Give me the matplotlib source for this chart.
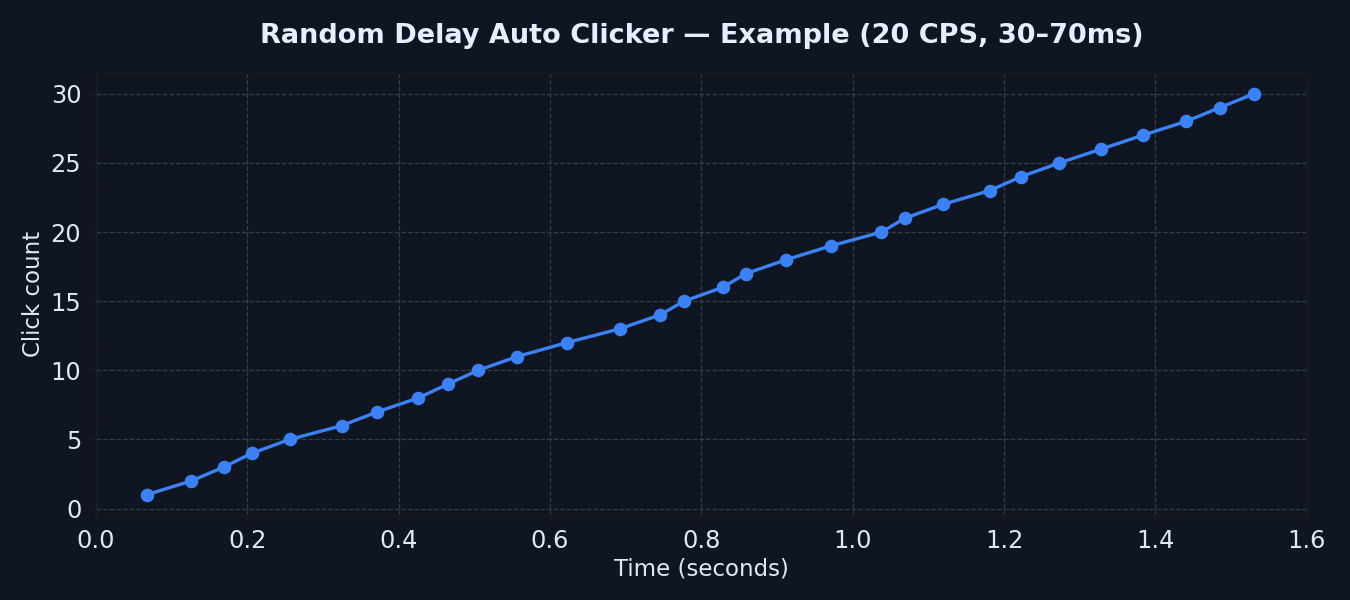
import matplotlib.pyplot as plt

# click timestamps (seconds) and running click count
times = [0.067, 0.126, 0.169, 0.206, 0.256, 0.325, 0.372, 0.426, 0.465, 0.505,
         0.557, 0.622, 0.692, 0.745, 0.777, 0.828, 0.859, 0.912, 0.971, 1.038,
         1.069, 1.119, 1.181, 1.222, 1.273, 1.328, 1.383, 1.440, 1.485, 1.530]
clicks = list(range(1, 31))

bg = '#0f1621'
fg = '#e2e8f0'

fig, ax = plt.subplots(figsize=(9, 4), dpi=150)
fig.patch.set_facecolor(bg)
ax.set_facecolor(bg)

ax.plot(times, clicks, color='#3b82f6', linewidth=1.6, marker='o', markersize=5.5)

ax.set_xlim(0, 1.6)
ax.set_title('Random Delay Auto Clicker \u2014 Example (20 CPS, 30\u201370ms)',
             color='#e8eeff', fontsize=13, fontweight='bold', pad=15)
ax.set_xlabel('Time (seconds)', color=fg, fontsize=11, labelpad=2)
ax.set_ylabel('Click count', color=fg, fontsize=11, labelpad=2.5)
ax.tick_params(colors='#1c1c1c', labelcolor=fg, labelsize=11.5)
for s in ax.spines.values():
    s.set_color('#1a1a1a')
ax.grid(True, linestyle='--', color='#313e4b', linewidth=0.6)

plt.subplots_adjust(left=0.071, right=0.968, bottom=0.142, top=0.877)
plt.savefig('out.png', facecolor=bg)
